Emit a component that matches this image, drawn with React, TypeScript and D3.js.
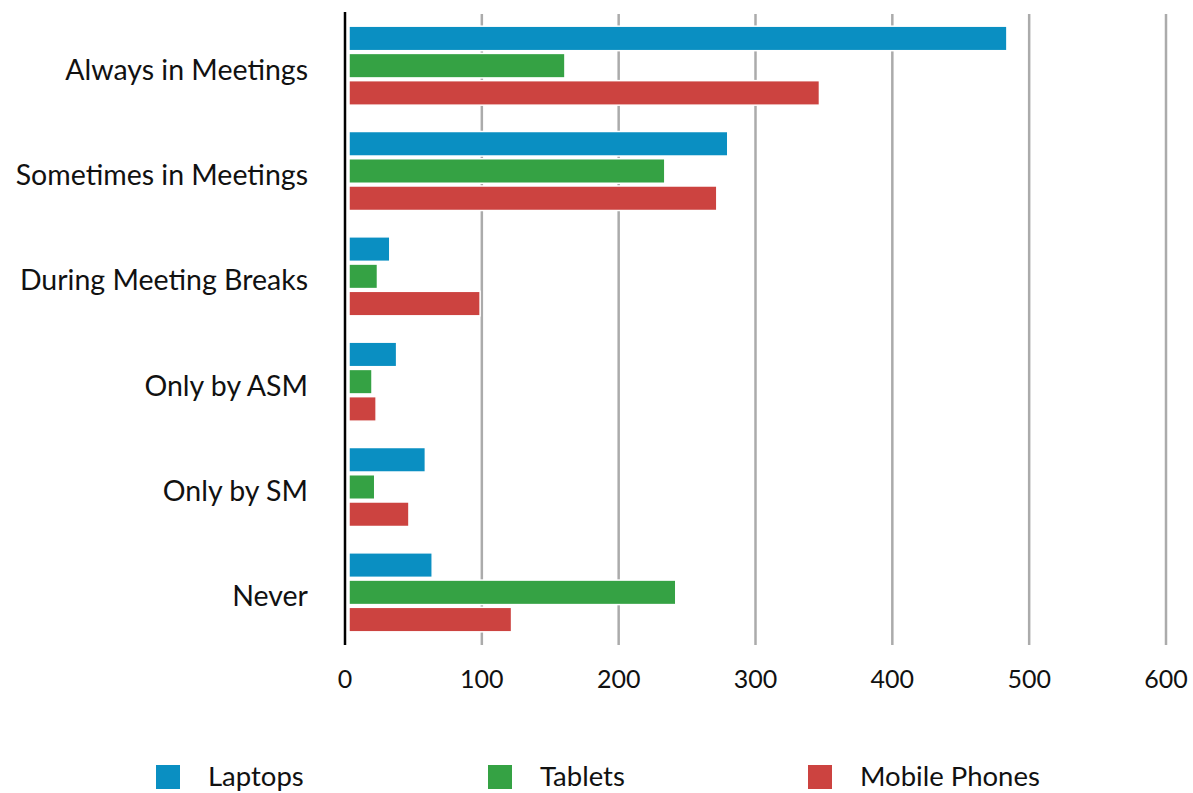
import React from "react";
import * as d3 from "d3";

const categories = [
  "Always in Meetings",
  "Sometimes in Meetings",
  "During Meeting Breaks",
  "Only by ASM",
  "Only by SM",
  "Never",
];
const seriesNames = ["Laptops", "Tablets", "Mobile Phones"];
const laptops = [483, 279, 32, 37, 58, 63];
const tablets = [160, 233, 23, 19, 21, 241];
const mobilePhones = [346, 271, 98, 22, 46, 121];
const colors = ["#0a8fc2", "#35a244", "#cc4340"];
const xTicks = [0, 100, 200, 300, 400, 500, 600];

const W = 1193;
const H = 793;
const FONT = "'Lato', 'Open Sans', sans-serif";

export default function App() {
  const series = [laptops, tablets, mobilePhones];
  const x = d3.scaleLinear().domain([0, 600]).range([345, 1166]);
  const y = d3.scaleBand<string>().domain(categories).range([13, 645]).paddingInner(0.25).paddingOuter(0.125);
  const inner = d3.scaleBand<number>().domain([0, 1, 2]).range([0, y.bandwidth()]).paddingInner(0.1);
  const legendX = [156, 488, 808];

  return (
    <svg width={W} height={H} style={{ position: "absolute", left: 0, top: 0, background: "#fff" }}>
      {xTicks.slice(1).map((t) => (
        <line key={t} x1={x(t)} x2={x(t)} y1={14} y2={645} stroke="#ababab" strokeWidth={2.5} />
      ))}
      {categories.map((c, i) => (
        <g key={c}>
          {series.map((s, j) => (
            <rect
              key={j}
              x={x(0) + 4}
              y={(y(c) as number) + (inner(j) as number)}
              width={Math.max(0, x(s[i]) - x(0) - 3)}
              height={inner.bandwidth()}
              fill={colors[j]}
              stroke="#fff"
              strokeWidth={1.5}
            />
          ))}
          <text
            x={308}
            y={(y(c) as number) + y.bandwidth() / 2 + 3}
            textAnchor="end"
            dominantBaseline="central"
            fontFamily={FONT}
            fontSize={28.5}
            fill="#111"
          >
            {c}
          </text>
        </g>
      ))}
      <line x1={345} x2={345} y1={12} y2={645} stroke="#000" strokeWidth={2.5} />
      {xTicks.map((t) => (
        <text key={t} x={x(t)} y={678} textAnchor="middle" dominantBaseline="central" fontFamily={FONT} fontSize={25} fill="#111">
          {t}
        </text>
      ))}
      {seriesNames.map((n, j) => (
        <g key={n}>
          <rect x={legendX[j]} y={765} width={24} height={24} fill={colors[j]} />
          <text x={legendX[j] + 52} y={775} dominantBaseline="central" fontFamily={FONT} fontSize={27.5} fill="#111">
            {n}
          </text>
        </g>
      ))}
    </svg>
  );
}
